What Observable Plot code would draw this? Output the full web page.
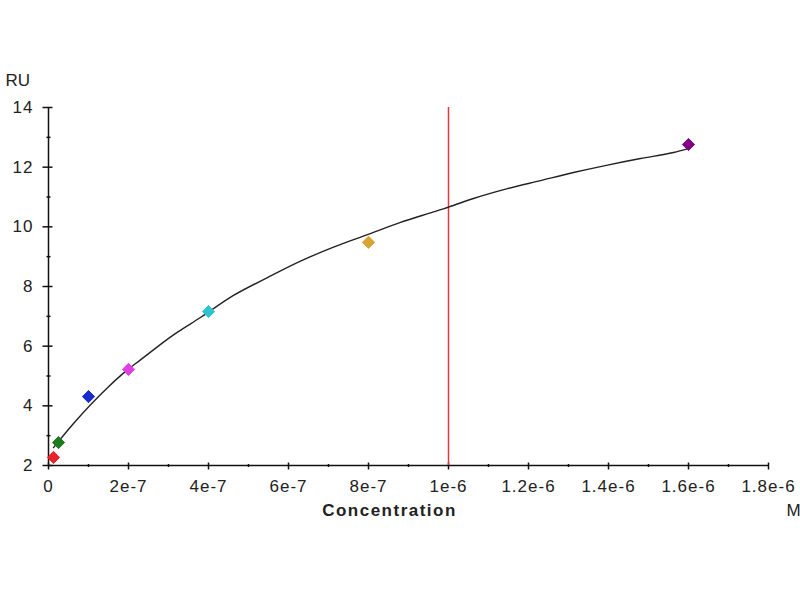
<!DOCTYPE html>
<html><head><meta charset="utf-8">
<script src="https://cdn.jsdelivr.net/npm/d3@7"></script>
<script src="https://cdn.jsdelivr.net/npm/@observablehq/plot@0.6"></script>
<style>
body{margin:0;background:#fff;}
g[aria-label$="tick label"] text{letter-spacing:1px;}
</style>
</head><body><div id="chart"></div>
<script>
// Measured points (concentration in M, response in RU)
const concentrations = [1.25e-8, 2.5e-8, 1e-7, 2e-7, 4e-7, 8e-7, 1.6e-6];
const responses = [2.27, 2.77, 4.31, 5.22, 7.16, 9.48, 12.76];
const pointColors = ["#e8242a", "#1e7a1e", "#1a2ad0", "#e040e0", "#30c4d0", "#d8a535", "#800080"];

// Fitted curve
const fitX = [1.25e-8, 6.25e-8, 1.475e-7, 1.95e-7, 2.3e-7, 3.125e-7, 3.8e-7, 4.625e-7, 5.475e-7, 6.3e-7, 7.125e-7, 7.975e-7, 8.8e-7, 9.625e-7, 1e-6, 1.0625e-6, 1.1475e-6, 1.23e-6, 1.3125e-6, 1.3975e-6, 1.48e-6, 1.5625e-6, 1.6e-6];
const fitY = [2.60, 3.41, 4.61, 5.18, 5.54, 6.38, 6.96, 7.70, 8.30, 8.85, 9.32, 9.74, 10.15, 10.50, 10.66, 10.95, 11.28, 11.55, 11.82, 12.07, 12.29, 12.49, 12.62];

// Vertical marker line
const markerLine = [1e-6];

// Axes ticks
const xMajorTicks = [0, 2e-7, 4e-7, 6e-7, 8e-7, 1e-6, 1.2e-6, 1.4e-6, 1.6e-6, 1.8e-6];
const xTickLabels = ["0", "2e-7", "4e-7", "6e-7", "8e-7", "1e-6", "1.2e-6", "1.4e-6", "1.6e-6", "1.8e-6"];
const xMinorTicks = [1e-7, 3e-7, 5e-7, 7e-7, 9e-7, 1.1e-6, 1.3e-6, 1.5e-6, 1.7e-6];
const yMajorTicks = [2, 4, 6, 8, 10, 12, 14];
const yMinorTicks = [3, 5, 7, 9, 11, 13];

const points = concentrations.map((c, i) => ({c, r: responses[i], color: pointColors[i]}));
const fit = fitX.map((x, i) => ({x, y: fitY[i]}));

const hTick = (l, r) => ({draw(ctx) { ctx.moveTo(-l, 0); ctx.lineTo(r, 0); }});
const vTick = (u, d) => ({draw(ctx) { ctx.moveTo(0, -u); ctx.lineTo(0, d); }});

const chart = Plot.plot({
  width: 800,
  height: 600,
  marginLeft: 48,
  marginRight: 32,
  marginTop: 107,
  marginBottom: 135,
  style: {fontFamily: "'Liberation Sans', Arial, sans-serif", fontSize: "17px", background: "#fff", color: "#222"},
  x: {domain: [0, 1.8e-6]},
  y: {domain: [2, 14]},
  marks: [
    // axis lines
    Plot.ruleY([2], {x1: 0, x2: 1.8e-6, stroke: "#111", strokeWidth: 1.5}),
    Plot.ruleX([0], {y1: 2, y2: 14, stroke: "#111", strokeWidth: 1.5}),
    // ticks
    Plot.dot(yMajorTicks, {x: () => 0, y: d => d, symbol: hTick(6, 4), fill: "none", stroke: "#111", strokeWidth: 1.5}),
    Plot.dot(yMinorTicks, {x: () => 0, y: d => d, symbol: hTick(2, 2), fill: "none", stroke: "#111", strokeWidth: 1.5}),
    Plot.dot(xMajorTicks, {x: d => d, y: () => 2, symbol: vTick(3, 4), fill: "none", stroke: "#111", strokeWidth: 1.5}),
    Plot.dot(xMinorTicks, {x: d => d, y: () => 2, symbol: vTick(1.5, 1.5), fill: "none", stroke: "#111", strokeWidth: 1.5}),
    // tick labels
    Plot.axisY({ticks: yMajorTicks, tickSize: 0, tickPadding: 15, label: null, fill: "#222"}),
    Plot.axisX({ticks: xMajorTicks, tickSize: 0, tickPadding: 14, label: null, fill: "#222",
      tickFormat: d => xTickLabels[xMajorTicks.indexOf(d)]}),
    // marker line
    Plot.ruleX(markerLine, {y1: 2, y2: 14, stroke: "#e03a3a", strokeWidth: 1.5}),
    // fit curve
    Plot.line(fit, {x: "x", y: "y", curve: "monotone-x", stroke: "#222", strokeWidth: 1.4}),
    // points
    Plot.dot(points, {x: "c", y: "r", symbol: "diamond2", r: 5.5, fill: d => d.color, stroke: d => d.color, strokeWidth: 1}),
    // labels
    Plot.text(["RU"], {frameAnchor: "top-left", dx: -43, dy: -34, textAnchor: "start", fontSize: 17, fill: "#222"}),
    Plot.text(["Concentration"], {frameAnchor: "bottom", dx: -19, dy: 50, fontSize: 17, fontWeight: "bold", fill: "#222"}),
    Plot.text(["M"], {frameAnchor: "bottom-right", dx: 18, dy: 50, textAnchor: "start", fontSize: 17, fill: "#222"})
  ]
});
chart.querySelectorAll('g[aria-label="text"] text').forEach(t => { if (t.textContent === "Concentration") t.style.letterSpacing = "1.5px"; });
document.getElementById("chart").append(chart);
</script>
</body></html>
